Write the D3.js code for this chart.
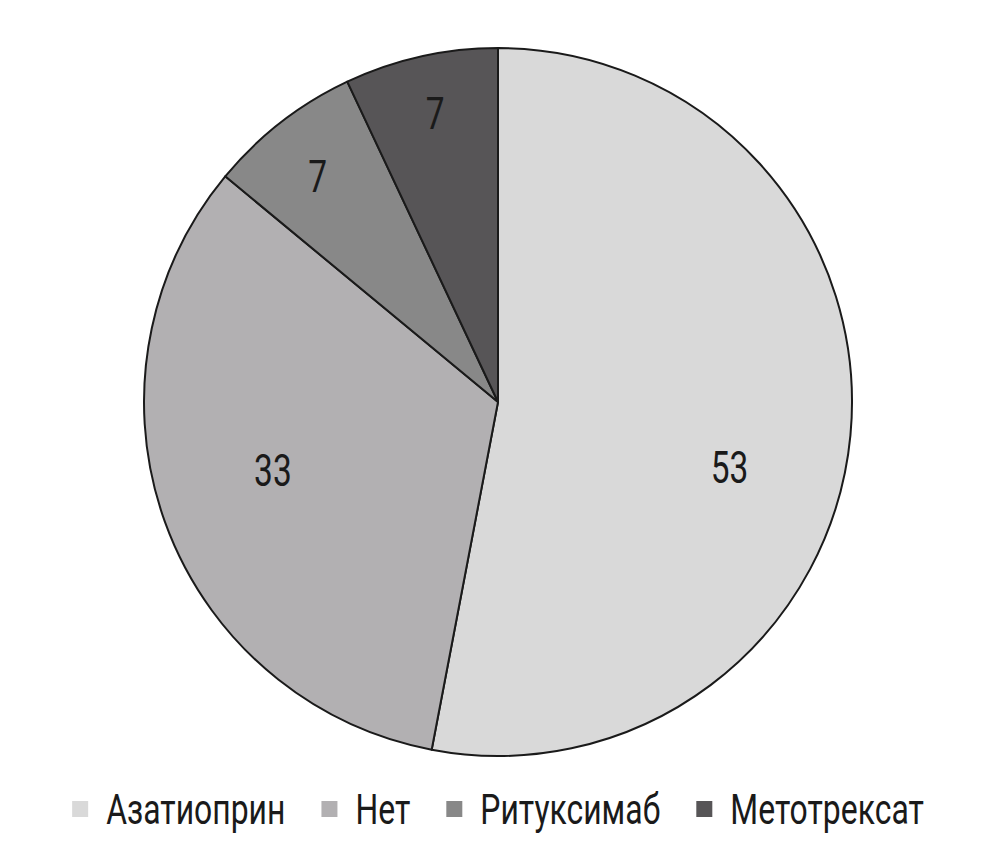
<!DOCTYPE html>
<html>
<head>
<meta charset="utf-8">
<script src="https://cdn.jsdelivr.net/npm/d3@7"></script>
<style>
  body { margin: 0; background: #fff; }
  text { font-family: Roboto, "Noto Sans", sans-serif; fill: #1a1a1a; }
</style>
</head>
<body>
<svg id="chart" width="1000" height="856"></svg>
<script>
// данные
var categories = ["Азатиоприн", "Нет", "Ритуксимаб", "Метотрексат"];
var values = [53, 33, 7, 7];
var colors = ["#d9d9d9", "#b2b0b2", "#888888", "#575557"];

// сдвиг подписей (как у Excel): доля радиуса и поворот в градусах
var labelRadius = [0.68, 0.665, 0.815, 0.835];
var labelShift = [10.5, 2.8, -0.9, 0.3];

var svg = d3.select("#chart"),
    cx = 498, cy = 402, radius = 354,
    squeeze = 0.76; // узкий шрифт

var g = svg.append("g").attr("transform", "translate(" + cx + "," + cy + ")");

var pie = d3.pie().sort(null).value(function(d) { return d; });
var arc = d3.arc().innerRadius(0).outerRadius(radius);
var arcs = pie(values);

g.selectAll("path.slice")
  .data(arcs)
  .enter().append("path")
    .attr("class", "slice")
    .attr("d", arc)
    .style("fill", function(d, i) { return colors[i]; })
    .style("stroke", "#1a1a1a")
    .style("stroke-width", 2)
    .style("stroke-linejoin", "round");

g.selectAll("text.lbl")
  .data(arcs)
  .enter().append("text")
    .attr("class", "lbl")
    .attr("transform", function(d, i) {
      var a = (d.startAngle + d.endAngle) / 2 + labelShift[i] * Math.PI / 180;
      var r = radius * labelRadius[i];
      var x = r * Math.sin(a), y = -r * Math.cos(a);
      return "translate(" + x + "," + y + ") scale(" + squeeze + ",1)";
    })
    .attr("text-anchor", "middle")
    .attr("dy", "0.35em")
    .style("font-size", "44px")
    .text(function(d) { return d.value; });

// легенда
var legend = svg.append("g");
var item = legend.selectAll("g.item")
  .data(categories)
  .enter().append("g")
    .attr("class", "item");

item.append("rect")
  .attr("width", 16).attr("height", 16)
  .attr("y", -8)
  .style("fill", function(d, i) { return colors[i]; });

item.append("text")
  .attr("transform", "translate(34,0) scale(" + squeeze + ",1)")
  .attr("dy", "0.355em")
  .style("font-size", "42px")
  .text(function(d) { return d; });

var x = 0, gap = 36;
item.each(function() {
  var w = d3.select(this).select("text").node().getComputedTextLength() * squeeze;
  d3.select(this).attr("transform", "translate(" + x + ",0)");
  x += 34 + w + gap;
});
var total = x - gap;
legend.attr("transform", "translate(" + (cx - total / 2) + ",809)");
</script>
</body>
</html>
